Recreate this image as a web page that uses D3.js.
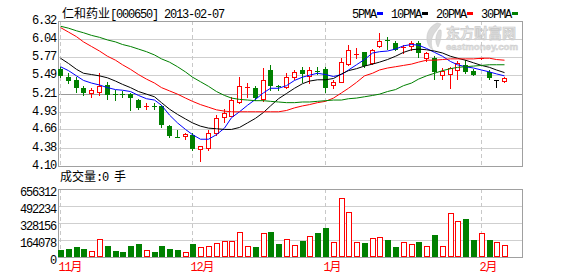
<!DOCTYPE html>
<html>
<head>
<meta charset="utf-8">
<script src="https://cdn.jsdelivr.net/npm/d3@7"></script>
<style>
  body { margin: 0; background: #fff; }
  svg { display: block; }
</style>
</head>
<body>
<div id="chart"></div>
<script>
const width = 578;
const height = 276;

// K线数据 (58 个交易日)
const open  = [5.58,5.47,5.41,5.30,5.22,5.24,5.34,5.21,5.21,5.21, 5.11,5.01,5.02,5.02,4.71,4.55,4.56,4.58,4.36,4.38,
               4.61,4.85,4.87,5.08,5.30,5.30,5.12,5.57,5.32,5.31, 5.47,5.57,5.48,5.56,5.59,5.34,5.39,5.66,5.81,5.84,
               5.67,5.94,6.03,5.99,5.91,5.93,5.99,5.75,5.75,5.49, 5.51,5.57,5.64,5.56,5.74,5.54,5.41,5.40];
const high  = [5.62,5.53,5.46,5.33,5.30,5.52,5.38,5.26,5.25,5.22, 5.13,5.06,5.06,5.03,4.73,4.65,4.60,4.60,4.41,4.65,
               4.88,4.98,5.16,5.47,5.37,5.33,5.60,5.64,5.34,5.52, 5.57,5.61,5.61,5.62,5.62,5.42,5.75,5.95,5.90,5.85,
               5.89,6.13,6.08,6.02,5.95,6.02,6.02,5.85,5.78,5.60, 5.62,5.71,5.72,5.59,5.75,5.57,5.41,5.47];
const low   = [5.47,5.37,5.24,5.19,5.16,5.19,5.13,5.11,5.15,4.96, 4.98,4.97,4.98,4.70,4.54,4.54,4.51,4.35,4.18,4.35,
               4.58,4.78,4.86,5.06,5.16,5.11,5.10,5.26,5.26,5.29, 5.43,5.39,5.37,5.51,5.24,5.29,5.38,5.65,5.76,5.62,
               5.66,5.92,5.89,5.87,5.83,5.88,5.77,5.70,5.43,5.43, 5.29,5.43,5.53,5.49,5.74,5.43,5.31,5.38];
const close = [5.50,5.41,5.31,5.24,5.27,5.33,5.21,5.20,5.20,5.16, 5.00,5.02,5.01,4.74,4.58,4.54,4.59,4.37,4.41,4.61,
               4.83,4.91,5.11,5.33,5.31,5.15,5.41,5.34,5.31,5.46, 5.54,5.53,5.57,5.55,5.31,5.38,5.69,5.87,5.82,5.65,
               5.87,6.02,6.02,5.89,5.92,5.98,5.85,5.83,5.56,5.56, 5.60,5.67,5.55,5.51,5.75,5.46,5.41,5.44];
const volume = [70500,80100,96500,80100,60800,173700,109000,60800,51200,109000,
                128400,70500,51200,109000,80100,70500,51200,128400,96500,106200,
                138000,157300,157300,244200,109000,99400,234500,237400,128400,176600,
                118700,150600,205600,227800,282800,147700,572300,437200,147700,138000,
                186300,195900,167000,99400,147700,128400,147700,109000,215200,109000,
                427600,350400,369700,167000,234500,167000,147700,118700];

// 均线
const ma5  = [5.62,5.56,5.48,5.41,5.37,5.34,5.30,5.27,5.26,5.24, 5.18,5.13,5.11,5.03,4.88,4.76,4.66,4.58,4.51,4.51,
              4.58,4.68,4.84,4.93,5.03,5.12,5.22,5.29,5.29,5.33, 5.41,5.46,5.49,5.52,5.50,5.47,5.50,5.57,5.65,5.73,
              5.83,5.85,5.86,5.89,5.94,5.96,5.95,5.90,5.84,5.78, 5.70,5.65,5.62,5.60,5.57,5.54,5.51,5.48];
const ma10 = [5.75,5.67,5.58,5.52,5.50,5.48,5.45,5.40,5.35,5.30, 5.24,5.20,5.16,5.07,4.97,4.89,4.82,4.76,4.71,4.68,
              4.67,4.66,4.66,4.69,4.76,4.83,4.92,5.02,5.13,5.21, 5.29,5.36,5.40,5.42,5.42,5.44,5.51,5.56,5.59,5.63,
              5.66,5.69,5.73,5.78,5.84,5.88,5.89,5.88,5.86,5.83, 5.78,5.75,5.72,5.68,5.64,5.61,5.57,5.53];
const ma20 = [6.22,6.15,6.08,6.00,5.93,5.86,5.78,5.72,5.65,5.58, 5.50,5.43,5.37,5.30,5.25,5.20,5.14,5.09,5.04,5.00,
              4.96,4.94,4.93,4.93,4.93,4.93,4.93,4.93,4.93,4.95, 4.99,5.02,5.04,5.07,5.09,5.14,5.22,5.29,5.38,5.48,
              5.52,5.57,5.60,5.62,5.64,5.66,5.69,5.72,5.72,5.73, 5.74,5.74,5.74,5.74,5.75,5.75,5.73,5.72];
const ma30 = [6.24,6.21,6.17,6.14,6.10,6.07,6.03,6.00,5.96,5.93, 5.89,5.85,5.80,5.74,5.69,5.62,5.54,5.46,5.39,5.32,
              5.24,5.18,5.14,5.12,5.11,5.10,5.10,5.09,5.08,5.07, 5.07,5.08,5.08,5.09,5.10,5.11,5.11,5.13,5.14,5.16,
              5.18,5.20,5.24,5.27,5.33,5.37,5.43,5.48,5.52,5.56, 5.59,5.61,5.62,5.63,5.64,5.65,5.65,5.65];

const priceTicks = ["6.32","6.04","5.77","5.49","5.21","4.93","4.66","4.38","4.10"];
const volumeTicks = [656312, 492234, 328156, 164078, 0];
const monthLabels = ["11", "12", "1", "2"];
const monthStarts = [0, 17, 34, 54];
const legendLabels = ["5PMA", "10PMA", "20PMA", "30PMA"];

const RED = "#ff0000", GREEN = "#008000", BLUE = "#0000ff", BLACK = "#000000";
const maSeries = [ma5, ma10, ma20, ma30];
const maColors = [BLUE, BLACK, RED, GREEN];

const MONO = "'Liberation Mono', monospace";
const CJK = "'Noto Sans CJK SC', sans-serif";

const svg = d3.select("#chart").append("svg")
    .attr("width", width)
    .attr("height", height);

const left = 58, right = 522;
const priceTop = 21, priceBottom = 166;
const volTop = 189, volBottom = 257;

const x = d3.scaleBand()
    .domain(d3.range(open.length))
    .range([left, right])
    .paddingInner(0.25)
    .paddingOuter(0.9)
    .align(0);

const yPrice = d3.scaleLinear()
    .domain([+priceTicks[priceTicks.length - 1], +priceTicks[0]])
    .range([priceBottom, priceTop]);

const yVol = d3.scaleLinear()
    .domain([0, volumeTicks[0]])
    .range([volBottom, volTop]);

const crisp = v => Math.round(v) + 0.5;
const bx = i => Math.round(x(i));
const cx = i => bx(i) + 2.5;

// 标题
const title = svg.append("text").attr("x", 62).attr("y", 18).attr("font-size", 12).attr("fill", "#000");
title.append("tspan").attr("font-family", CJK).text("仁和药业");
title.append("tspan").attr("font-family", MONO).attr("letter-spacing", -1.2).text("[000650] 2013-02-07");

// 图例
let lx = 352;
legendLabels.forEach((label, k) => {
    svg.append("text")
        .attr("x", lx).attr("y", 18)
        .attr("font-family", MONO).attr("font-size", 12).attr("letter-spacing", -1.2)
        .text(label);
    const sx = lx + label.length * 6 + 1;
    svg.append("rect")
        .attr("x", sx).attr("y", 12).attr("width", 6).attr("height", 3)
        .attr("fill", maColors[k]);
    lx = sx + 14;
});

// 水印
const wm = svg.append("g").attr("opacity", 0.9);
wm.append("path")
    .attr("d", "M437,23 C428,27 425,36 428,44 C429,47 431,49 433,50 C430,44 431,37 436,31 C438,28 440,26 441,24 Z M439,30 C435,36 435,42 438,47 C440,42 442,36 441,30 Z")
    .attr("fill", "#d6d6d6").attr("stroke", "#c4c4c4").attr("stroke-width", 0.6);
wm.append("text")
    .attr("x", 446).attr("y", 38)
    .attr("font-family", CJK).attr("font-weight", "bold").attr("font-size", 14)
    .attr("textLength", 70).attr("lengthAdjust", "spacing")
    .attr("fill", "#e4e4e4").attr("stroke", "#c6c6c6").attr("stroke-width", 0.7)
    .text("东方财富网");
wm.append("text")
    .attr("x", 446).attr("y", 50)
    .attr("font-family", "'Liberation Sans', sans-serif").attr("font-weight", "bold").attr("font-size", 9.5)
    .attr("textLength", 72).attr("lengthAdjust", "spacingAndGlyphs")
    .attr("fill", "#e0e0e0").attr("stroke", "#c8c8c8").attr("stroke-width", 0.5)
    .text("eastmoney.com");

// 价格网格
const grid = svg.append("g").attr("shape-rendering", "crispEdges");
priceTicks.forEach((t, k) => {
    const y = crisp(yPrice(+t));
    if (k > 0 && k < priceTicks.length - 1) {
        grid.append("line")
            .attr("x1", left).attr("x2", right).attr("y1", y).attr("y2", y)
            .attr("stroke", k === 4 ? "#999" : "#cfcfcf");
    }
    svg.append("text")
        .attr("x", 56).attr("y", Math.round(yPrice(+t)) + 2.5)
        .attr("text-anchor", "end")
        .attr("font-family", MONO).attr("font-size", 12).attr("letter-spacing", -1.2)
        .text(t);
});

// 成交量网格
volumeTicks.forEach((t, k) => {
    const y = crisp(yVol(t));
    if (k > 0 && k < volumeTicks.length - 1) {
        grid.append("line")
            .attr("x1", left).attr("x2", right).attr("y1", y).attr("y2", y)
            .attr("stroke", "#cfcfcf");
    }
    svg.append("text")
        .attr("x", 56).attr("y", Math.round(yVol(t)) + 7)
        .attr("text-anchor", "end")
        .attr("font-family", MONO).attr("font-size", 12).attr("letter-spacing", -1.2)
        .text(t);
});

// 月份分隔虚线 + 标签
monthStarts.forEach((i, k) => {
    [[priceTop, priceBottom], [volTop, volBottom]].forEach(([a, b]) => {
        grid.append("line")
            .attr("x1", cx(i)).attr("x2", cx(i)).attr("y1", a).attr("y2", b)
            .attr("stroke", "#c8c8c8").attr("stroke-dasharray", "4,3");
    });
    const t = svg.append("text")
        .attr("x", cx(i) - 2).attr("y", 271)
        .attr("font-size", 12).attr("fill", RED);
    t.append("tspan").attr("font-family", MONO).attr("letter-spacing", -1.2).text(monthLabels[k]);
    t.append("tspan").attr("font-family", CJK).text("月");
});

// 边框
[[priceTop, priceBottom], [volTop, volBottom]].forEach(([a, b]) => {
    grid.append("rect")
        .attr("x", left + 0.5).attr("y", a + 0.5)
        .attr("width", right - left).attr("height", b - a)
        .attr("fill", "none").attr("stroke", "#a0a0a0");
});

// 成交量标题
const vt = svg.append("text").attr("x", 60).attr("y", 181).attr("font-size", 12);
vt.append("tspan").attr("font-family", CJK).text("成交量");
vt.append("tspan").attr("font-family", MONO).attr("letter-spacing", -1.2).text(":0 ");
vt.append("tspan").attr("font-family", CJK).text("手");

// K线
const candles = svg.append("g").attr("shape-rendering", "crispEdges");
d3.range(open.length).forEach(i => {
    const color = close[i] > open[i] ? RED : close[i] < open[i] ? GREEN : BLACK;
    const top = Math.round(yPrice(Math.max(open[i], close[i])));
    const bot = Math.round(yPrice(Math.min(open[i], close[i])));
    candles.append("line")
        .attr("x1", cx(i)).attr("x2", cx(i))
        .attr("y1", Math.round(yPrice(high[i]))).attr("y2", Math.round(yPrice(low[i])) + 1)
        .attr("stroke", color);
    if (bot - top >= 2) {
        candles.append("rect")
            .attr("x", bx(i) + 0.5).attr("y", top + 0.5)
            .attr("width", 4).attr("height", bot - top)
            .attr("fill", color === RED ? "#fff" : color)
            .attr("stroke", color);
    } else {
        candles.append("line")
            .attr("x1", bx(i)).attr("x2", bx(i) + 5)
            .attr("y1", top + 0.5).attr("y2", top + 0.5)
            .attr("stroke", color);
    }
});

// 均线
const line = d3.line().x((d, i) => cx(i)).y(d => yPrice(d));
maSeries.forEach((s, k) => {
    svg.append("path")
        .attr("d", line(s))
        .attr("fill", "none")
        .attr("stroke", maColors[k])
        .attr("stroke-width", 1);
});

// 成交量柱
const vols = svg.append("g").attr("shape-rendering", "crispEdges");
volume.forEach((v, i) => {
    const up = close[i] >= open[i];
    const y = Math.round(yVol(v));
    vols.append("rect")
        .attr("x", bx(i) + 0.5).attr("y", y + 0.5)
        .attr("width", 5).attr("height", volBottom - y - 1)
        .attr("fill", up ? "#fff" : GREEN)
        .attr("stroke", up ? RED : GREEN);
});
</script>
</body>
</html>
